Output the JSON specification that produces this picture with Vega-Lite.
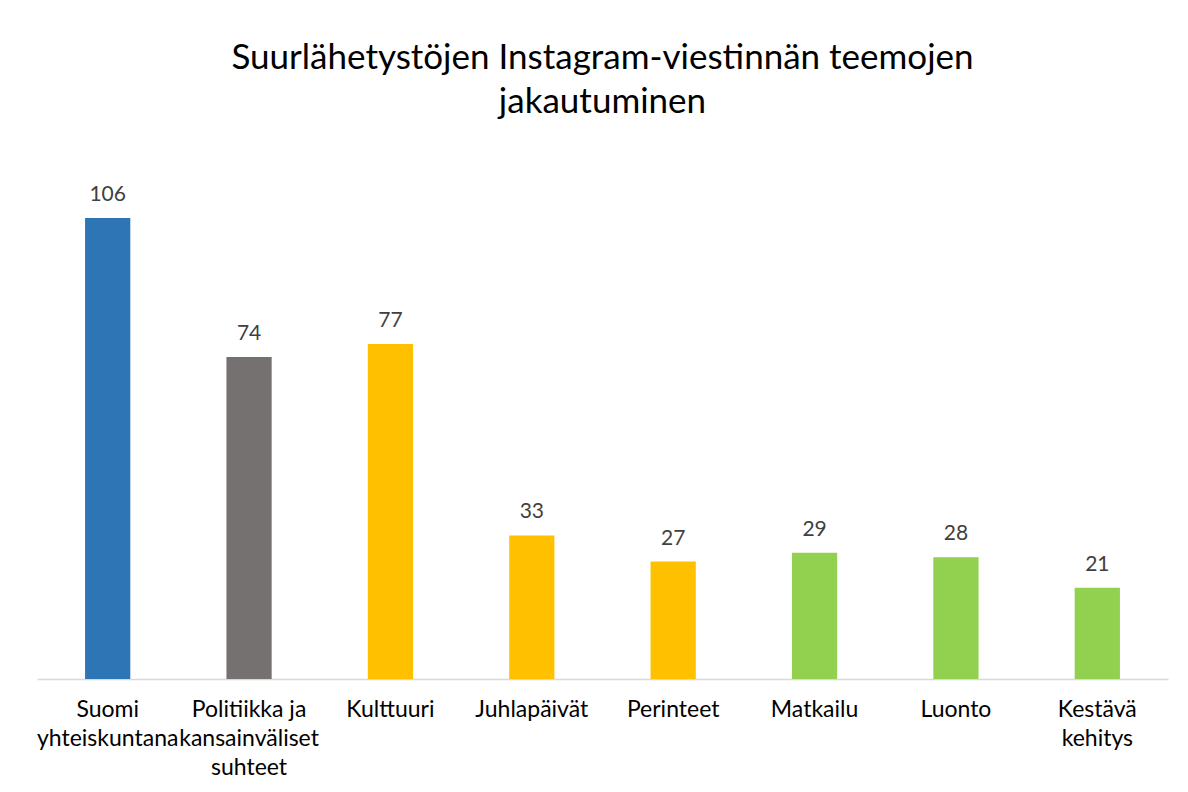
{
  "$schema": "https://vega.github.io/schema/vega-lite/v6.json",
  "width": 1131,
  "height": 522,
  "autosize": {"type": "none"},
  "padding": {"left": 37, "top": 157, "right": 20, "bottom": 113},
  "background": "white",
  "title": {
    "text": ["Suurlähetystöjen Instagram-viestinnän teemojen", "jakautuminen"],
    "font": "Lato",
    "fontSize": 35,
    "fontWeight": "normal",
    "color": "#000000",
    "anchor": "middle",
    "lineHeight": 44,
    "offset": 37
  },
  "data": {
    "values": [
      {"teema": "Suomi|yhteiskuntana", "maara": 106, "ryhma": "a"},
      {"teema": "Politiikka ja|kansainväliset|suhteet", "maara": 74, "ryhma": "b"},
      {"teema": "Kulttuuri", "maara": 77, "ryhma": "c"},
      {"teema": "Juhlapäivät", "maara": 33, "ryhma": "c"},
      {"teema": "Perinteet", "maara": 27, "ryhma": "c"},
      {"teema": "Matkailu", "maara": 29, "ryhma": "d"},
      {"teema": "Luonto", "maara": 28, "ryhma": "d"},
      {"teema": "Kestävä|kehitys", "maara": 21, "ryhma": "d"}
    ]
  },
  "encoding": {
    "x": {
      "field": "teema",
      "type": "nominal",
      "sort": null,
      "scale": {"paddingInner": 0.68, "paddingOuter": 0.34},
      "axis": {
        "title": null,
        "labelExpr": "split(datum.label, '|')",
        "labelAngle": 0,
        "labelFont": "Lato",
        "labelFontSize": 23,
        "labelColor": "#000000",
        "labelLineHeight": 29,
        "labelPadding": 19,
        "labelBaseline": "top",
        "ticks": false,
        "domainColor": "#d9d9d9",
        "domainWidth": 1.5,
        "labelLimit": 300
      }
    },
    "y": {
      "field": "maara",
      "type": "quantitative",
      "scale": {"domain": [0, 120], "nice": false},
      "axis": null
    }
  },
  "layer": [
    {
      "mark": {"type": "bar"},
      "encoding": {
        "color": {
          "field": "ryhma",
          "type": "nominal",
          "scale": {"domain": ["a", "b", "c", "d"], "range": ["#2E75B6", "#767171", "#FFC000", "#92D050"]},
          "legend": null
        }
      }
    },
    {
      "mark": {"type": "text", "baseline": "alphabetic", "dy": -17, "font": "Lato", "fontSize": 21, "color": "#404040"},
      "encoding": {"text": {"field": "maara", "type": "quantitative"}}
    }
  ],
  "config": {"view": {"stroke": null}}
}
